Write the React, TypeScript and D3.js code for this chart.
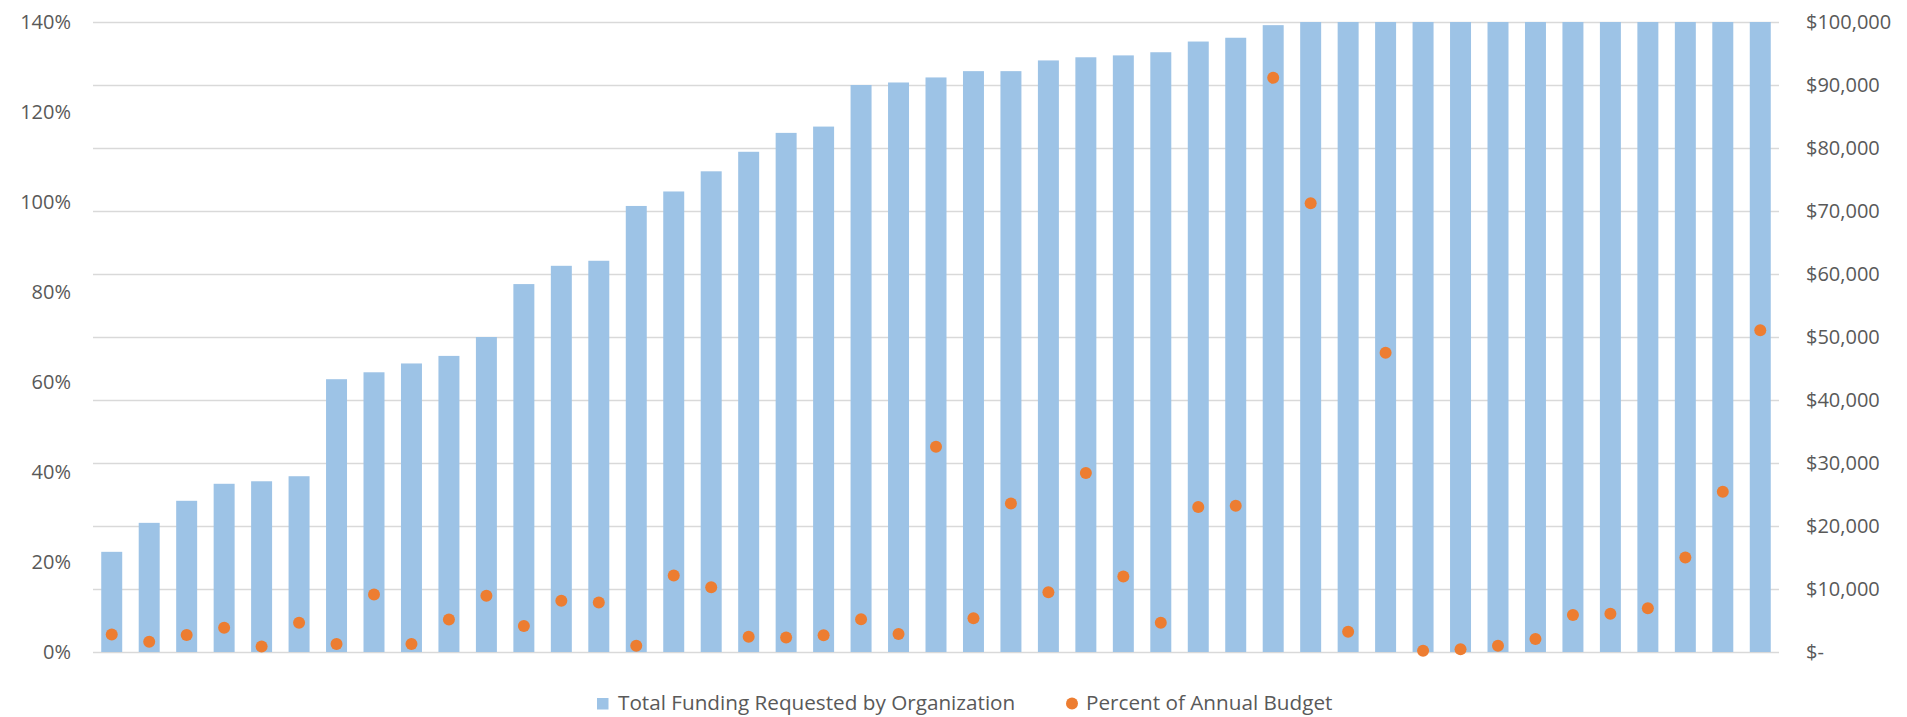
import React, { useEffect, useRef } from 'react';
import * as d3 from 'd3';

// Total funding requested per organization ($), sorted ascending
const fundingRequested: number[] = [
    15900, 20500, 24000, 26700, 27100, 27900, 43300, 44400, 45800, 47000,
    50000, 58400, 61300, 62100, 70800, 73100, 76300, 79400, 82400, 83400,
    90000, 90400, 91200, 92200, 92200, 93900, 94400, 94700, 95200, 96900,
    97500, 99500, 100000, 100000, 100000, 100000, 100000, 100000, 100000, 100000,
    100000, 100000, 100000, 100000, 100000,
];

// Request as a percent of the organization's annual budget
const percentOfBudget: number[] = [
    3.9, 2.3, 3.8, 5.4, 1.2, 6.5, 1.8, 12.8, 1.8, 7.2,
    12.5, 5.8, 11.4, 11.0, 1.4, 17.0, 14.4, 3.4, 3.2, 3.7,
    7.3, 4.0, 45.6, 7.5, 33.0, 13.3, 39.8, 16.8, 6.5, 32.2,
    32.5, 127.6, 99.7, 4.5, 66.5, 0.3, 0.6, 1.4, 2.9, 8.2,
    8.5, 9.7, 21.0, 35.6, 71.5,
];

const organizations: string[] = fundingRequested.map((_, i) => `Org ${i + 1}`);

const percentTicks: number[] = [0, 20, 40, 60, 80, 100, 120, 140];
const dollarTicks: number[] = [0, 10000, 20000, 30000, 40000, 50000, 60000, 70000, 80000, 90000, 100000];

const seriesNames: string[] = ['Total Funding Requested by Organization', 'Percent of Annual Budget'];

const FONT = '"Open Sans", "Liberation Sans", sans-serif';
const TEXT = '#595959';
const BAR = '#9dc3e6';
const DOT = '#ed7d31';
const GRID = '#d9d9d9';

const FundingChart: React.FC = () => {
    const chartRef = useRef<SVGSVGElement | null>(null);

    useEffect(() => {
        if (!chartRef.current) return;

        const width = 1907;
        const height = 717;
        const margin = { top: 22, right: 128, bottom: 65, left: 93 };

        const svg = d3.select(chartRef.current)
            .attr('width', width)
            .attr('height', height)
            .attr('viewBox', `0 0 ${width} ${height}`);

        svg.selectAll('*').remove();

        const x = d3.scaleBand<string>()
            .domain(organizations)
            .range([margin.left, width - margin.right])
            .paddingInner(0.44)
            .paddingOuter(0.22);

        const yDollar = d3.scaleLinear()
            .domain([0, 100000])
            .range([height - margin.bottom, margin.top]);

        const yPct = d3.scaleLinear()
            .domain([0, 140])
            .range([height - margin.bottom, margin.top]);

        // gridlines follow the right ($) axis
        svg.append('g')
            .attr('transform', `translate(${width - margin.right},0)`)
            .call(d3.axisRight(yDollar).tickValues(dollarTicks).tickSize(-(width - margin.left - margin.right)).tickFormat(() => ''))
            .call(g => g.select('.domain').remove())
            .call(g => g.selectAll('.tick line').attr('stroke', GRID).attr('stroke-width', 1.3));

        // bars
        svg.append('g')
            .selectAll('rect')
            .data(fundingRequested)
            .join('rect')
            .attr('x', (_, i) => x(organizations[i]) as number)
            .attr('y', d => yDollar(d))
            .attr('width', x.bandwidth())
            .attr('height', d => yDollar(0) - yDollar(d))
            .attr('fill', BAR);

        // dots
        svg.append('g')
            .selectAll('circle')
            .data(percentOfBudget)
            .join('circle')
            .attr('cx', (_, i) => (x(organizations[i]) as number) + x.bandwidth() / 2)
            .attr('cy', d => yPct(d))
            .attr('r', 6)
            .attr('fill', DOT);

        // left axis (percent)
        svg.append('g')
            .attr('transform', `translate(${margin.left - 22},0)`)
            .call(d3.axisLeft(yPct).tickValues(percentTicks).tickSize(0).tickFormat(d => `${d}%`))
            .call(g => g.select('.domain').remove())
            .call(g => g.selectAll('.tick text')
                .attr('x', 0)
                .attr('fill', TEXT)
                .attr('font-size', '20px')
                .attr('font-family', FONT));

        // right axis (dollars)
        const fmt = d3.format(',');
        svg.append('g')
            .attr('transform', `translate(${width - margin.right + 27},0)`)
            .call(d3.axisRight(yDollar).tickValues(dollarTicks).tickSize(0).tickFormat(d => (+d === 0 ? '$-' : `$${fmt(+d)}`)))
            .call(g => g.select('.domain').remove())
            .call(g => g.selectAll('.tick text')
                .attr('x', 0)
                .attr('fill', TEXT)
                .attr('font-size', '20px')
                .attr('font-family', FONT));

        // legend
        const legend = svg.append('g').attr('font-family', FONT).attr('font-size', '20.7px').attr('fill', TEXT);
        legend.append('rect')
            .attr('x', 597).attr('y', 698).attr('width', 11.5).attr('height', 11.5)
            .attr('fill', BAR);
        legend.append('text')
            .attr('x', 618).attr('y', 704).attr('dominant-baseline', 'middle')
            .text(seriesNames[0]);
        legend.append('circle')
            .attr('cx', 1072).attr('cy', 703.5).attr('r', 6)
            .attr('fill', DOT);
        legend.append('text')
            .attr('x', 1086).attr('y', 704).attr('dominant-baseline', 'middle')
            .text(seriesNames[1]);
    }, []);

    return <svg ref={chartRef} style={{ position: 'absolute', left: 0, top: 0, background: '#fff' }}></svg>;
};

export default function App() {
    return <FundingChart />;
}
